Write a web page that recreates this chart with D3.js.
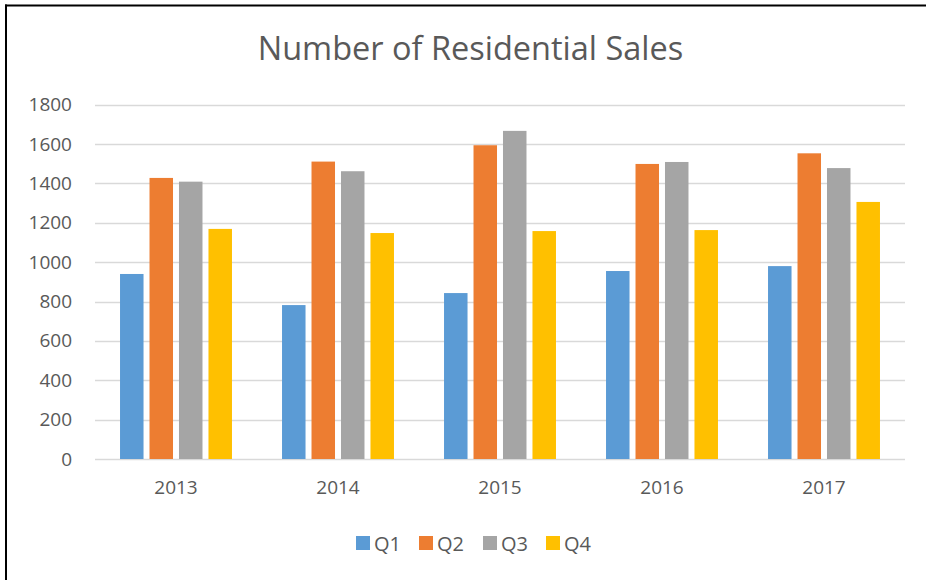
<!DOCTYPE html>
<html lang="en">
<head>
  <meta charset="UTF-8">
  <title>Number of Residential Sales</title>
  <script src="https://d3js.org/d3.v7.min.js"></script>
  <style>
    body { margin: 0; background: #fff; }
    text { font-family: "Open Sans", "Liberation Sans", sans-serif; fill: #595959; }
  </style>
</head>
<body>
<script>
  // data
  var years = ["2013", "2014", "2015", "2016", "2017"];
  var quarters = ["Q1", "Q2", "Q3", "Q4"];
  var q1 = [940, 782, 843, 955, 980];
  var q2 = [1428, 1511, 1594, 1499, 1553];
  var q3 = [1409, 1462, 1667, 1509, 1478];
  var q4 = [1169, 1148, 1158, 1163, 1306];
  var yTicks = [0, 200, 400, 600, 800, 1000, 1200, 1400, 1600, 1800];
  var colors = ["#5b9bd5", "#ed7d31", "#a5a5a5", "#ffc000"];

  var series = [q1, q2, q3, q4];

  var w = 926, h = 580;
  var plotLeft = 95, plotRight = 905, plotTop = 104.7, plotBottom = 459;

  var svg = d3.select("body").append("svg")
    .attr("width", w)
    .attr("height", h);

  // frame (top and left edges only)
  svg.append("line").attr("x1", 5).attr("x2", w).attr("y1", 5.5).attr("y2", 5.5)
    .attr("stroke", "#000").attr("stroke-width", 2);
  svg.append("line").attr("x1", 6).attr("x2", 6).attr("y1", 4.5).attr("y2", h)
    .attr("stroke", "#000").attr("stroke-width", 2);

  var x0 = d3.scaleBand().domain(years).range([plotLeft, plotRight])
    .paddingInner(0.309).paddingOuter(0.1545);
  var x1 = d3.scaleBand().domain(quarters).range([0, x0.bandwidth()])
    .paddingInner(0.203);
  var y = d3.scaleLinear().domain([0, 1800]).range([plotBottom, plotTop]);

  // gridlines
  svg.append("g").selectAll("line")
    .data(yTicks)
    .join("line")
    .attr("x1", plotLeft).attr("x2", plotRight)
    .attr("y1", function(d) { return Math.round(y(d)) + 0.5; })
    .attr("y2", function(d) { return Math.round(y(d)) + 0.5; })
    .attr("stroke", "#d9d9d9").attr("stroke-width", 1.5);

  // y axis labels
  var yAxis = d3.axisLeft(y).tickValues(yTicks).tickFormat(d3.format("d"))
    .tickSize(0).tickPadding(0);
  var gy = svg.append("g")
    .attr("transform", "translate(72,0)")
    .call(yAxis);
  gy.select(".domain").remove();
  gy.selectAll("text").attr("font-size", "19px").attr("fill", "#595959")
    .attr("font-family", null);

  // x axis labels
  var xAxis = d3.axisBottom(x0).tickSize(0).tickPadding(0);
  var gx = svg.append("g")
    .attr("transform", "translate(0,480)")
    .call(xAxis);
  gx.select(".domain").remove();
  gx.selectAll("text").attr("font-size", "19px").attr("fill", "#595959")
    .attr("font-family", null);

  // bars
  var groups = svg.append("g").selectAll("g")
    .data(years)
    .join("g")
    .attr("transform", function(d) { return "translate(" + x0(d) + ",0)"; });

  groups.selectAll("rect")
    .data(function(d, i) {
      return quarters.map(function(q, j) { return { q: q, v: series[j][i], c: colors[j] }; });
    })
    .join("rect")
    .attr("x", function(d) { return x1(d.q); })
    .attr("width", x1.bandwidth())
    .attr("y", function(d) { return y(d.v); })
    .attr("height", function(d) { return plotBottom - y(d.v); })
    .attr("fill", function(d) { return d.c; });

  // title
  svg.append("text")
    .attr("x", 470.5)
    .attr("y", 60)
    .attr("text-anchor", "middle")
    .attr("font-size", "32.5px")
    .text("Number of Residential Sales");

  // legend
  var legendX = [356, 419, 483, 546];
  var legend = svg.append("g").selectAll("g")
    .data(quarters)
    .join("g")
    .attr("transform", function(d, i) { return "translate(" + legendX[i] + ",536)"; });
  legend.append("rect").attr("width", 14).attr("height", 14)
    .attr("fill", function(d, i) { return colors[i]; });
  legend.append("text").attr("x", 18).attr("y", 15)
    .attr("font-size", "20px")
    .text(function(d) { return d; });
</script>
</body>
</html>
